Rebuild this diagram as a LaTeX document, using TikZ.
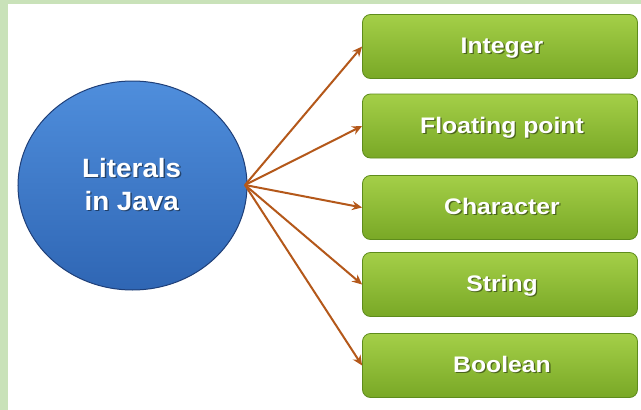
\documentclass[tikz,border=0pt]{standalone}
\usepackage{fontspec}
\setmainfont{Liberation Sans}
\usetikzlibrary{arrows.meta,shapes.geometric}
\definecolor{framegreen}{HTML}{C9E2B9}
\definecolor{blueTop}{HTML}{4F8EDC}
\definecolor{blueBot}{HTML}{2F66B4}
\definecolor{blueEdge}{HTML}{1F3F78}
\definecolor{greenTop}{HTML}{A4CF48}
\definecolor{greenBot}{HTML}{79A826}
\definecolor{greenEdge}{HTML}{5E8C1C}
\definecolor{arrowcol}{HTML}{B4581A}
\tikzset{
  hub/.style={ellipse, draw=blueEdge, line width=1pt, top color=blueTop, bottom color=blueBot,
              minimum width=229pt, minimum height=209pt, inner sep=0pt},
  litbox/.style={rectangle, rounded corners=8pt, draw=greenEdge, line width=0.8pt,
              top color=greenTop, bottom color=greenBot,
              minimum width=275pt, minimum height=64pt, inner sep=0pt},
  hubtext/.style={font=\bfseries\fontsize{26.5}{32}\selectfont, text=white, anchor=base,
              inner sep=0pt, xscale=1.05},
  boxtext/.style={font=\bfseries\fontsize{22.5}{26}\selectfont, text=white, anchor=base,
              inner sep=0pt, xscale=1.1},
  shadowtext/.style={text=black, opacity=0.45},
  link/.style={draw=arrowcol, line width=2pt, -{Stealth[length=10pt,width=9pt]}}
}
\begin{document}
\begin{tikzpicture}[x=1pt,y=-1pt]
\useasboundingbox (0,0) rectangle (641,410);
% page frame
\fill[framegreen] (0,0) rectangle (641,410);
\fill[white] (8,4) rectangle (641,410);

% central ellipse with its two-line label
\node[hub] (hub) at (132.5,185.5) {};
\node[hubtext, shadowtext] (hubshadowA) at (133,178.3) {Literals};
\node[hubtext, shadowtext] (hubshadowB) at (133,211.3) {in Java};
\node[hubtext] (hublabelA) at (131.7,177) {Literals};
\node[hubtext] (hublabelB) at (131.7,210) {in Java};

% literal kinds
\foreach \name/\txt/\y in {int/Integer/46.5, flt/Floating point/126, chr/Character/207.5, str/String/284.5, bool/Boolean/365.5}{
  \node[litbox] (\name) at (500,\y) {};
  \node[boxtext, shadowtext] (\name shadow) at (503.3,\y+8.3) {\txt};
  \node[boxtext] (\name label) at (502,\y+7) {\txt};
}

% connectors
\coordinate (src) at (245,185);
\foreach \name in {int,flt,chr,str,bool}{
  \draw[link] (src) -- (\name.west);
}
\end{tikzpicture}
\end{document}
